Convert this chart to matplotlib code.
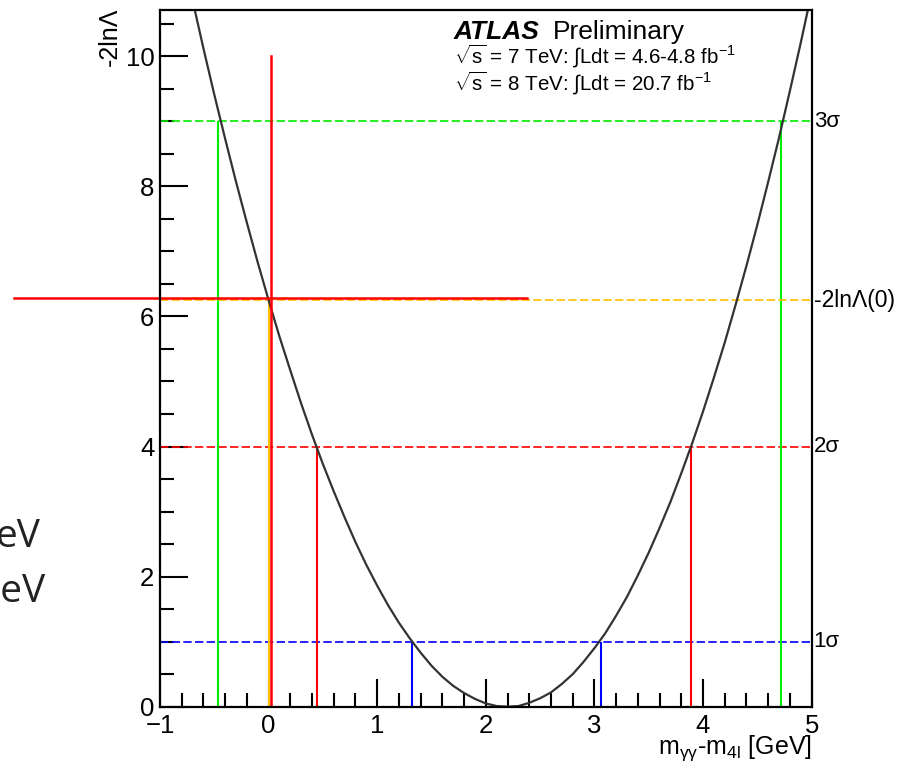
import matplotlib
matplotlib.use('Agg')
import matplotlib.pyplot as plt
from matplotlib.ticker import MultipleLocator

plt.rcParams['font.family'] = ['Liberation Sans', 'DejaVu Sans']
plt.rcParams['mathtext.fontset'] = 'custom'
plt.rcParams['mathtext.rm'] = 'Liberation Sans'
plt.rcParams['mathtext.it'] = 'Liberation Sans:italic'
plt.rcParams['mathtext.bf'] = 'Liberation Sans:bold'
plt.rcParams['lines.scale_dashes'] = False

# likelihood scan of the mass difference
scan_x = [-0.8, -0.7, -0.6, -0.5, -0.4, -0.3, -0.2, -0.1, 0.0, 0.1,
          0.2, 0.3, 0.4, 0.5, 0.6, 0.7, 0.8, 0.9, 1.0, 1.1,
          1.2, 1.3, 1.4, 1.5, 1.6, 1.7, 1.8, 1.9, 2.0, 2.1,
          2.2, 2.3, 2.4, 2.5, 2.6, 2.7, 2.8, 2.9, 3.0, 3.1,
          3.2, 3.3, 3.4, 3.5, 3.6, 3.7, 3.8, 3.9, 4.0, 4.1,
          4.2, 4.3, 4.4, 4.5, 4.6, 4.7, 4.8, 4.9, 5.0]
scan_y = [11.62, 10.86, 10.12, 9.41, 8.73, 8.07, 7.44, 6.83, 6.25, 5.69,
          5.17, 4.66, 4.18, 3.73, 3.31, 2.91, 2.53, 2.18, 1.86, 1.56,
          1.29, 1.05, 0.83, 0.63, 0.46, 0.32, 0.21, 0.12, 0.05, 0.01,
          0.0, 0.01, 0.06, 0.13, 0.22, 0.35, 0.50, 0.69, 0.90, 1.13,
          1.40, 1.69, 2.02, 2.37, 2.75, 3.15, 3.59, 4.05, 4.54, 5.06,
          5.60, 6.18, 6.78, 7.41, 8.07, 8.75, 9.47, 10.21, 10.98]

# 1, 2, 3 sigma levels and where the scan crosses them
sigma_levels = [1, 4, 9]
sigma_labels = ['1σ', '2σ', '3σ']
sigma_colors = ['#0000ff', '#ff0000', '#00ee00']
cross_left = [1.32, 0.45, -0.47]
cross_right = [3.06, 3.89, 4.72]

# value at zero mass difference
lam0 = 6.25
lam0_label = '-2lnΛ(0)'
lam0_color = '#ffbf00'

# hand-drawn red cross
mark_x = 0.025
mark_top = 10.0
mark_y = 6.29
mark_x0, mark_x1 = -2.34, 2.38

fig = plt.figure(figsize=(9.08, 7.65), dpi=100)
ax = fig.add_axes([0.1762, 0.0762, 0.7177, 0.9107])

ax.set_xlim(-1, 5)
ax.set_ylim(0, 10.71)

for lvl, lab, col, xl, xr in zip(sigma_levels, sigma_labels, sigma_colors,
                                 cross_left, cross_right):
    ax.axhline(lvl, color=col, lw=1.2, dashes=(6, 2.4))
    ax.vlines([xl, xr], 0, lvl, color=col, lw=1.5)
    ax.text(1.003, lvl, lab, transform=ax.get_yaxis_transform(),
            ha='left', va='center', fontsize=16)

ax.axhline(lam0, color=lam0_color, lw=1.2, dashes=(6, 2.4))
ax.vlines(0, 0, lam0, color=lam0_color, lw=1.5)
ax.text(1.003, lam0, lam0_label, transform=ax.get_yaxis_transform(),
        ha='left', va='center', fontsize=16.5)

ax.plot(scan_x, scan_y, color='#333333', lw=1.6)

ax.plot([mark_x, mark_x], [0, mark_top], color='#ff0000', lw=1.8)
ax.plot([mark_x0, mark_x1], [mark_y, mark_y], color='#ff0000', lw=1.8,
        clip_on=False)

ax.xaxis.set_major_locator(MultipleLocator(1))
ax.xaxis.set_minor_locator(MultipleLocator(0.2))
ax.yaxis.set_major_locator(MultipleLocator(2))
ax.yaxis.set_minor_locator(MultipleLocator(0.5))
ax.tick_params(which='both', direction='in', top=False, right=False,
               width=1.5, labelsize=18.5)
ax.tick_params(which='major', length=20)
ax.tick_params(which='minor', length=10)
ax.tick_params(axis='x', pad=5)
ax.tick_params(axis='y', pad=4)
for s in ax.spines.values():
    s.set_linewidth(1.6)

fig.text(0.121, 0.99, '-2lnΛ', rotation=90, ha='center', va='top', fontsize=18)
fig.text(0.894, 0.002,
         r'm$_{\mathrm{\gamma\gamma}}$-m$_{\mathrm{4l}}$ [GeV]',
         ha='right', va='bottom', fontsize=18)

# ATLAS label block
fig.text(454 / 908, 1 - 39 / 765, 'ATLAS', fontsize=19, ha='left',
         va='baseline', fontweight='bold', style='italic')
fig.text(553 / 908, 1 - 39 / 765, 'Preliminary', fontsize=19, ha='left',
         va='baseline')
fig.text(454 / 908, 1 - 64 / 765,
         r'$\sqrt{\mathrm{s}}$ = 7 TeV: $\int$Ldt = 4.6-4.8 fb$^{-1}$',
         fontsize=14.8, ha='left', va='baseline')
fig.text(454 / 908, 1 - 91 / 765,
         r'$\sqrt{\mathrm{s}}$ = 8 TeV: $\int$Ldt = 20.7 fb$^{-1}$',
         fontsize=14.8, ha='left', va='baseline')

# slide text left of the plot
fig.text(-0.004, 1 - 547 / 765, 'eV', fontsize=28, family='Open Sans',
         color='#222222', ha='left', va='baseline')
fig.text(-0.030, 1 - 602 / 765, 'GeV', fontsize=28, family='Open Sans',
         color='#222222', ha='left', va='baseline')

fig.savefig('out.png', dpi=100)
